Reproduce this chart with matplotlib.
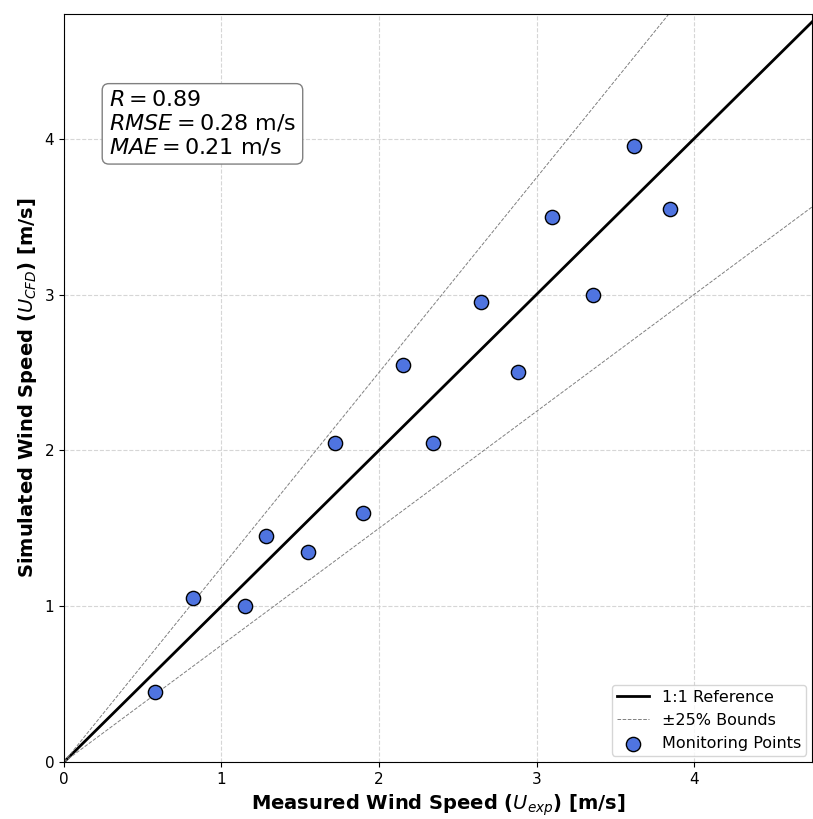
import matplotlib
matplotlib.use("Agg")
import matplotlib.pyplot as plt
import numpy as np

# measured vs simulated wind speed at monitoring points
u_exp = [0.58, 0.82, 1.15, 1.28, 1.55, 1.72, 1.90, 2.15, 2.34, 2.65, 2.88, 3.10, 3.36, 3.62, 3.85]
u_cfd = [0.45, 1.05, 1.00, 1.45, 1.35, 2.05, 1.60, 2.55, 2.05, 2.95, 2.50, 3.50, 3.00, 3.95, 3.55]
stats_text = "$R = 0.89$\n$RMSE = 0.28$ m/s\n$MAE = 0.21$ m/s"

fig = plt.figure(figsize=(8.13, 8.19), dpi=100)
ax = fig.add_axes([0.0787, 0.0696, 0.9203, 0.9133])

xmax, ymax = 4.75, 4.8
line_x = np.array([0, 6])
ax.plot(line_x, line_x, color='black', lw=2, label='1:1 Reference', zorder=2)
ax.plot(line_x, 1.25 * line_x, color='gray', lw=0.7, ls='--', label='±25% Bounds', zorder=2)
ax.plot(line_x, 0.75 * line_x, color='gray', lw=0.7, ls='--', zorder=2)
ax.scatter(u_exp, u_cfd, s=105, color='#4f74e0', edgecolor='black', linewidth=1,
           label='Monitoring Points', zorder=3)

ax.set_xlim(0, xmax)
ax.set_ylim(0, ymax)
ax.set_xticks([0, 1, 2, 3, 4])
ax.set_yticks([0, 1, 2, 3, 4])
ax.tick_params(labelsize=11)
ax.grid(True, color='#cccccc', ls='--', lw=0.8, alpha=0.8)

ax.set_xlabel('Measured Wind Speed ($U_{exp}$) [m/s]', fontsize=14, fontweight='bold')
ax.set_ylabel('Simulated Wind Speed ($U_{CFD}$) [m/s]', fontsize=14, fontweight='bold')

ax.text(0.06, 0.898, stats_text, transform=ax.transAxes, fontsize=16, va='top',
        linespacing=1.15,
        bbox=dict(boxstyle='round,pad=0.3', facecolor='white', edgecolor='gray'))

ax.legend(loc='lower right', fontsize=11.5, borderaxespad=0.4, borderpad=0.3)

fig.savefig('out.png', dpi=100)
